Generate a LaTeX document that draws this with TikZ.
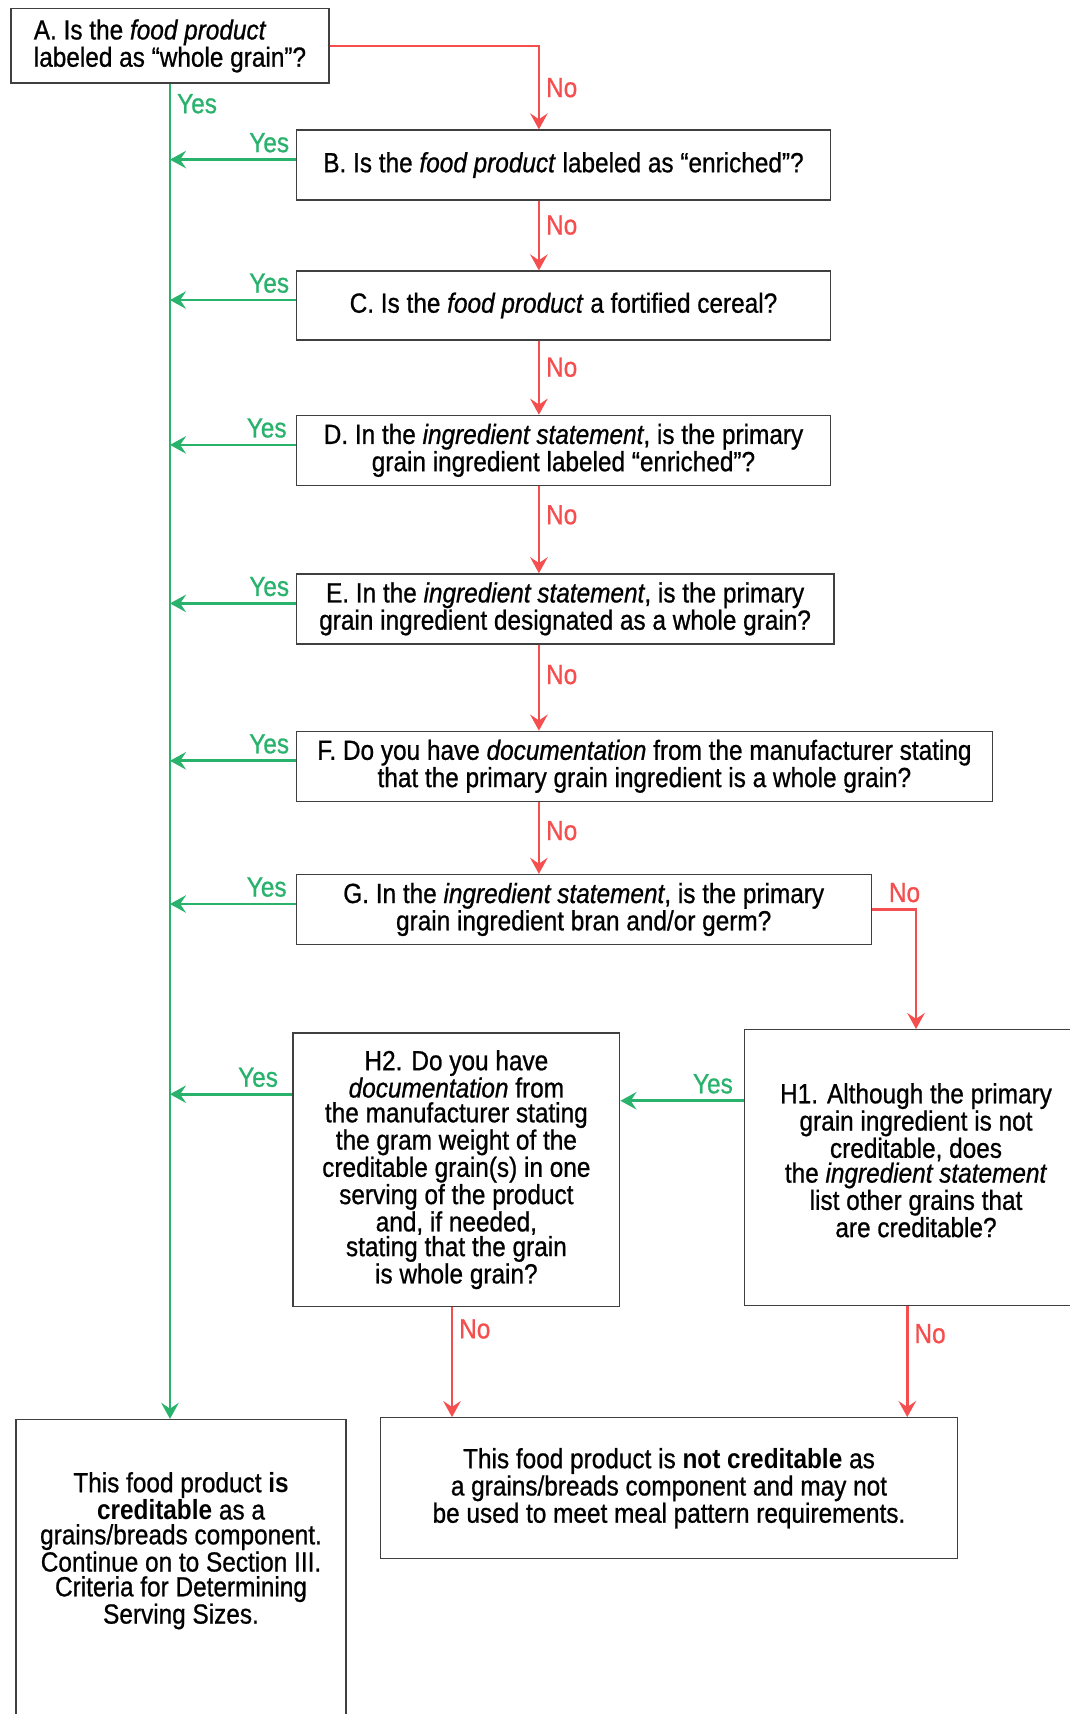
\documentclass[tikz,border=0pt]{standalone}
\usepackage{fontspec}
\setmainfont{Liberation Sans}[FakeStretch=0.88, UprightFeatures={FakeBold=0.8}, ItalicFeatures={FakeBold=0.8}]
\usepackage{xcolor}
\usetikzlibrary{positioning, arrows.meta}
\definecolor{yesgreen}{RGB}{40,178,108}
\definecolor{nored}{RGB}{245,78,78}
\tikzset{
  qbox/.style={draw=black!75, line width=0.9pt, align=center, inner sep=0pt, font=\fontsize{19}{17}\selectfont},
  yesline/.style={color=yesgreen, line width=1.9pt, -{Stealth[length=11pt,width=12pt,inset=4pt]}},
  noline/.style={color=nored, line width=1.9pt, -{Stealth[length=11pt,width=12pt,inset=4pt]}},
  lbl/.style={font=\fontsize{19}{17}\selectfont, inner sep=4pt}
}

\begin{document}
\begin{tikzpicture}[x=0.75pt, y=-0.75pt]
            \useasboundingbox (0,0) rectangle (978,1568);

            %Nodes
            \node[qbox, align=left, minimum width=218.25pt, minimum height=51pt] at (155.5,42) (A) {A. Is the \emph{food product}\\labeled as “whole grain”?};
            \node[qbox, minimum width=366.75pt, minimum height=48pt] at (515.5,151) (B) {B. Is the \emph{food product} labeled as “enriched”?};
            \node[qbox, minimum width=366.75pt, minimum height=47.25pt] at (515.5,279.5) (C) {C. Is the \emph{food product} a fortified cereal?};
            \node[qbox, minimum width=366.75pt, minimum height=48pt] at (515.5,412) (D) {D. In the \emph{ingredient statement}, is the primary\\grain ingredient labeled “enriched”?};
            \node[qbox, minimum width=369pt, minimum height=48pt] at (517,557) (E) {E. In the \emph{ingredient statement}, is the primary\\grain ingredient designated as a whole grain?};
            \node[qbox, minimum width=477.75pt, minimum height=48pt] at (589.5,701) (F) {F. Do you have \emph{documentation} from the manufacturer stating\\that the primary grain ingredient is a whole grain?};
            \node[qbox, minimum width=394.5pt, minimum height=48pt] at (534,832) (G) {G. In the \emph{ingredient statement}, is the primary\\grain ingredient bran and/or germ?};
            \node[qbox, minimum width=235.5pt, minimum height=189pt] at (838,1068) (H1) {H1. Although the primary\\grain ingredient is not\\creditable, does\\the \emph{ingredient statement}\\list other grains that\\are creditable?\\[-7pt]};
            \node[qbox, minimum width=224.25pt, minimum height=187.5pt] at (417.5,1070) (H2) {H2. Do you have\\\emph{documentation} from\\the manufacturer stating\\the gram weight of the\\creditable grain(s) in one\\serving of the product\\and, if needed,\\stating that the grain\\is whole grain?};
            \node[qbox, anchor=north west, minimum width=226.5pt, text height=140pt, text depth=86pt] at (14,1298) (cred) {This food product \textbf{is}\\\textbf{creditable} as a\\grains/breads component.\\Continue on to Section III.\\Criteria for Determining\\Serving Sizes.};
            \node[qbox, minimum width=396pt, minimum height=96.75pt] at (612,1361.5) (notcred) {This food product is \textbf{not creditable} as\\a grains/breads component and may not\\be used to meet meal pattern requirements.};

            \coordinate (mainx) at (493,0);

            %Lines
            \draw[noline] (A.east) -| (B.north -| mainx) node[lbl, pos=0.75, right] {No};
            \draw[noline] (B.south -| mainx) -- (C.north -| mainx) node[lbl, pos=0.35, right] {No};
            \draw[noline] (C.south -| mainx) -- (D.north -| mainx) node[lbl, pos=0.36, right] {No};
            \draw[noline] (D.south -| mainx) -- (E.north -| mainx) node[lbl, pos=0.33, right] {No};
            \draw[noline] (E.south -| mainx) -- (F.north -| mainx) node[lbl, pos=0.35, right] {No};
            \draw[noline] (F.south -| mainx) -- (G.north -| mainx) node[lbl, pos=0.4, right] {No};
            \draw[noline] (G.east) -| (H1.north) node[lbl, pos=0.37, above] {No};
            \draw[noline] ([xshift=-3pt]H2.south) -- ([xshift=-3pt]H2.south |- notcred.north) node[lbl, pos=0.2, right] {No};
            \draw[noline] ([xshift=-6pt]H1.south) -- ([xshift=-6pt]H1.south |- notcred.north) node[lbl, pos=0.25, right] {No};

            \draw[yesline] (A.south) -- (A.south |- cred.north) node[lbl, pos=0.015, right] {Yes};
            \draw[yesline] ([yshift=3.75pt]B.west) -- ([yshift=3.75pt]B.west -| A.south) node[lbl, pos=0.21, above] {Yes};
            \draw[yesline] ([yshift=3.75pt]C.west) -- ([yshift=3.75pt]C.west -| A.south) node[lbl, pos=0.21, above] {Yes};
            \draw[yesline] ([yshift=3.75pt]D.west) -- ([yshift=3.75pt]D.west -| A.south) node[lbl, pos=0.23, above] {Yes};
            \draw[yesline] ([yshift=3.75pt]E.west) -- ([yshift=3.75pt]E.west -| A.south) node[lbl, pos=0.21, above] {Yes};
            \draw[yesline] ([yshift=3.75pt]F.west) -- ([yshift=3.75pt]F.west -| A.south) node[lbl, pos=0.21, above] {Yes};
            \draw[yesline] ([yshift=3.75pt]G.west) -- ([yshift=3.75pt]G.west -| A.south) node[lbl, pos=0.23, above] {Yes};
            \draw[yesline] ([yshift=51.75pt]H2.west) -- ([yshift=51.75pt]H2.west -| A.south) node[lbl, pos=0.28, above] {Yes};
            \draw[yesline] ([yshift=45.75pt]H1.west) -- ([yshift=45.75pt]H1.west -| H2.east) node[lbl, pos=0.25, above] {Yes};
        \end{tikzpicture}
\end{document}
